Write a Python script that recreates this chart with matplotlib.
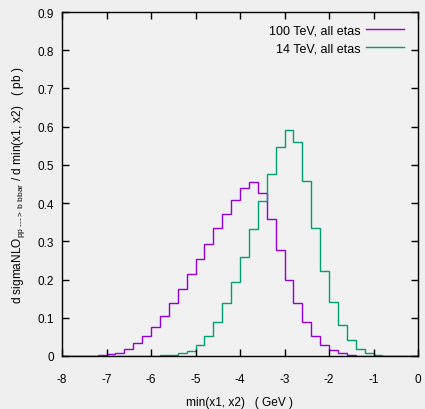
import numpy as np
import matplotlib
matplotlib.use("Agg")
import matplotlib.pyplot as plt

plt.rcParams['font.family'] = ['Liberation Sans', 'DejaVu Sans']
plt.rcParams['mathtext.fontset'] = 'custom'
plt.rcParams['mathtext.rm'] = 'Liberation Sans'
plt.rcParams['mathtext.it'] = 'Liberation Sans'

edges = np.round(np.arange(-8.0, 0.0001, 0.2), 1)

sigma_100tev = [0.0, 0.0003, 0.0005, 0.001, 0.002, 0.004, 0.009, 0.019, 0.034, 0.052,
                0.077, 0.105, 0.139, 0.174, 0.215, 0.253, 0.293, 0.334, 0.372, 0.408,
                0.439, 0.455, 0.427, 0.359, 0.278, 0.200, 0.138, 0.088, 0.053, 0.029,
                0.015, 0.007, 0.003, 0.001, 0.0005, 0.0002, 0.0, 0.0, 0.0, 0.0]

sigma_14tev = [0.0, 0.0, 0.0, 0.0, 0.0, 0.0, 0.0, 0.0, 0.0002, 0.0005,
               0.001, 0.0015, 0.003, 0.007, 0.014, 0.029, 0.053, 0.090, 0.138, 0.193,
               0.260, 0.332, 0.406, 0.475, 0.546, 0.591, 0.559, 0.457, 0.335, 0.222,
               0.141, 0.081, 0.041, 0.018, 0.007, 0.002, 0.0005, 0.0002, 0.0, 0.0]

labels = ["100 TeV, all etas", "14 TeV, all etas"]
xticks = [-8, -7, -6, -5, -4, -3, -2, -1, 0]
yticks = [0, 0.1, 0.2, 0.3, 0.4, 0.5, 0.6, 0.7, 0.8, 0.9]

fig = plt.figure(figsize=(4.25, 4.10), dpi=100)
fig.patch.set_facecolor("#efefef")
ax = fig.add_axes([62/425, 1 - 357/410, (418-62)/425, (357-13)/410])
ax.set_facecolor("#f1f1f1")

ax.stairs(sigma_100tev, edges, color="#9400d3", lw=1.0, label=labels[0])
ax.stairs(sigma_14tev, edges, color="#009e73", lw=1.0, label=labels[1])

ax.set_xlim(-8, 0)
ax.set_ylim(0, 0.9)
ax.set_xticks(xticks)
ax.set_xticklabels([str(t) for t in xticks])
ax.set_yticks(yticks)
ax.set_yticklabels(["0"] + [f"{t:.1f}" for t in yticks[1:]])
ax.tick_params(direction="in", length=5, width=1, top=True, right=True,
               labelsize=8.5, colors="black")
ax.tick_params(axis="x", pad=12)
ax.tick_params(axis="y", pad=6)
for s in ax.spines.values():
    s.set_linewidth(1.0)

ax.set_xlabel("min(x1, x2)   ( GeV )", fontsize=8.6, labelpad=8)
ax.set_ylabel("d sigmaNLO$_{\\mathregular{pp\\ \u2010\u2010\u2010>\\ b\\ bbar}}$ / d min(x1, x2)   ( pb )",
              fontsize=8.6, labelpad=7)

leg = ax.legend(loc="upper right", frameon=False, markerfirst=False, fontsize=9,
                handlelength=3.0, handletextpad=0.5, borderaxespad=0.3,
                labelspacing=0.5, bbox_to_anchor=(0.985, 0.99))

fig.savefig("out.png", dpi=100, facecolor=fig.get_facecolor())
